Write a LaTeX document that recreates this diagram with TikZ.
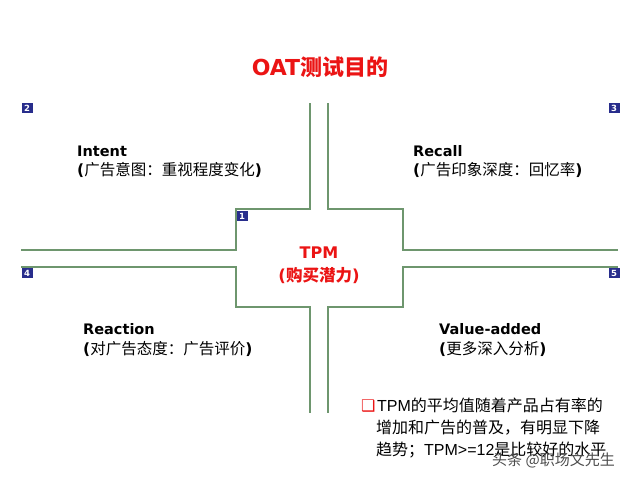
\documentclass[tikz,border=0pt]{standalone}
\usepackage{fontspec}
\setmainfont{Noto Sans CJK SC}
\newfontfamily\verd{DejaVu Sans}
\newfontfamily\cjk{Noto Sans CJK SC}
\newfontfamily\arl{Liberation Sans}
\definecolor{ln}{RGB}{110,150,110}
\definecolor{navy}{RGB}{40,45,140}
\definecolor{tred}{RGB}{235,20,20}
\begin{document}
\begin{tikzpicture}[x=1pt,y=-1pt,
  grid/.style={draw=ln,line width=1.1pt},
  numbox/.style={fill=navy,text=white,inner sep=0pt,minimum width=11pt,minimum height=10.5pt,font=\verd\bfseries\fontsize{8.5}{8.5}\selectfont},
  head/.style={anchor=base west,inner sep=0pt,font=\verd\bfseries\fontsize{14.5}{17}\selectfont},
  sub/.style={anchor=base west,inner sep=0pt,font=\cjk\fontsize{15.5}{18}\selectfont},
  notel/.style={anchor=base west,inner sep=0pt,font=\cjk\fontsize{16}{18}\selectfont},
]
\useasboundingbox (0,0) rectangle (640,480);
\fill[white] (0,0) rectangle (640,480);

% title
\node[anchor=base,inner sep=0pt,text=tred,font=\cjk\bfseries\fontsize{22}{24}\selectfont] (title) at (320,75) {{\verd\bfseries OAT}测试目的};

% grid lines
\draw[grid] (310,103) -- (310,209) -- (236,209) -- (236,250) -- (21,250);
\draw[grid] (328,103) -- (328,209) -- (403,209) -- (403,250) -- (618,250);
\draw[grid] (21,267) -- (236,267) -- (236,307) -- (310,307) -- (310,413);
\draw[grid] (618,267) -- (403,267) -- (403,307) -- (328,307) -- (328,413);

% number boxes
\node[numbox] (n2) at (27,108) {2};
\node[numbox] (n3) at (614,108) {3};
\node[numbox] (n1) at (242,216) {1};
\node[numbox] (n4) at (27,273) {4};
\node[numbox] (n5) at (614,273) {5};

% quadrant labels
\node[head] (intent) at (77,156) {Intent};
\node[sub] (intentcn) at (77,175) {{\verd\bfseries (}广告意图：重视程度变化{\verd\bfseries )}};
\node[head] (recall) at (413,156) {Recall};
\node[sub] (recallcn) at (413,175) {{\verd\bfseries (}广告印象深度：回忆率{\verd\bfseries )}};
\node[head] (reaction) at (83,334) {Reaction};
\node[sub] (reactioncn) at (83,354) {{\verd\bfseries (}对广告态度：广告评价{\verd\bfseries )}};
\node[head] (value) at (439,334) {Value-added};
\node[sub] (valuecn) at (439,354) {{\verd\bfseries (}更多深入分析{\verd\bfseries )}};

% centre
\node[anchor=base,inner sep=0pt,text=tred,font=\verd\bfseries\fontsize{16}{18}\selectfont] (tpm) at (319,258) {TPM};
\node[anchor=base,inner sep=0pt,text=tred,font=\cjk\bfseries\fontsize{16.5}{18}\selectfont] (tpmcn) at (319,281) {{\verd\bfseries (}购买潜力{\verd\bfseries )}};

% note
\node[anchor=base west,inner sep=0pt,text=tred,font=\verd\bfseries\fontsize{16}{16}\selectfont] (bullet) at (361,411) {❑};
\node[notel] (note1) at (377,411) {{\arl TPM}的平均值随着产品占有率的};
\node[notel] (note2) at (376,433) {增加和广告的普及，有明显下降};
\node[notel] (note3) at (376,455) {趋势；{\arl TPM>=12}是比较好的水平};

% watermark
\node[anchor=base west,inner sep=0pt,text=black!70,font=\cjk\fontsize{15}{16}\selectfont] (wm) at (492,465) {头条 @职场文先生};
\end{tikzpicture}
\end{document}
